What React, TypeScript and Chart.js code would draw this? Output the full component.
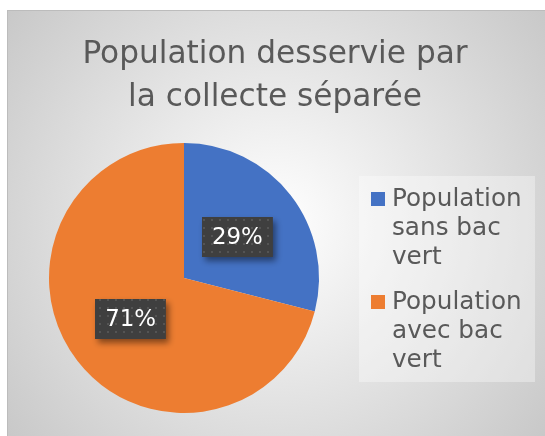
import React, { useEffect, useRef } from "react";
import { Chart, registerables } from "chart.js";
Chart.register(...registerables);

const categories = ["Population sans bac vert", "Population avec bac vert"];
const values = [29, 71];
const colors = ["#4472C4", "#ED7D31"];
const titleLines = ["Population desservie par", "la collecte séparée"];

const W = 545;
const H = 436;
const FONT = "'DejaVu Sans', 'Noto Sans', sans-serif";
const TEXT = "#595959";

function fitSize(ctx: CanvasRenderingContext2D, text: string, base: number, target: number) {
  ctx.font = `${base}px ${FONT}`;
  const w = ctx.measureText(text).width;
  return Math.round(((base * target) / w) * 10) / 10;
}

function wrapText(ctx: CanvasRenderingContext2D, text: string, maxW: number): string[] {
  const words = text.split(" ");
  const lines: string[] = [];
  let cur = "";
  for (const w of words) {
    const t = cur ? cur + " " + w : w;
    if (cur && ctx.measureText(t).width > maxW) {
      lines.push(cur);
      cur = w;
    } else cur = t;
  }
  if (cur) lines.push(cur);
  return lines;
}

let patternCache: CanvasPattern | null = null;
function getPattern(ctx: CanvasRenderingContext2D) {
  if (patternCache) return patternCache;
  const c = document.createElement("canvas");
  c.width = 8;
  c.height = 8;
  const p = c.getContext("2d")!;
  p.fillStyle = "#3f3f3f";
  p.fillRect(0, 0, 8, 8);
  p.fillStyle = "#545454";
  p.fillRect(3, 3, 2, 2);
  patternCache = ctx.createPattern(c, "repeat");
  return patternCache;
}

const decoPlugin = {
  id: "deco",
  beforeDraw(chart: any) {
    const ctx: CanvasRenderingContext2D = chart.ctx;
    ctx.save();
    ctx.fillStyle = "#ffffff";
    ctx.fillRect(0, 0, W, H);
    const x0 = 7, y0 = 10;
    const g = ctx.createRadialGradient(276, 223, 0, 276, 223, 345);
    g.addColorStop(0, "#ffffff");
    g.addColorStop(1, "#c8c8c8");
    ctx.fillStyle = g;
    ctx.fillRect(x0, y0, W - x0, H - y0);
    ctx.strokeStyle = "#bcbcbc";
    ctx.lineWidth = 1;
    ctx.strokeRect(x0 + 0.5, y0 + 0.5, W - x0, H - y0);

    // title
    const ts = Math.min(32, fitSize(ctx, titleLines[0], 30, 385));
    ctx.fillStyle = TEXT;
    ctx.font = `${ts}px ${FONT}`;
    ctx.textAlign = "center";
    ctx.textBaseline = "alphabetic";
    titleLines.forEach((l, i) => ctx.fillText(l, 275, 63 + i * 43));

    // legend box
    ctx.fillStyle = "rgba(255,255,255,0.35)";
    ctx.fillRect(359, 176, 176, 206);
    ctx.restore();
  },
  afterDraw(chart: any) {
    const ctx: CanvasRenderingContext2D = chart.ctx;
    ctx.save();
    // legend
    const ls = Math.min(25, fitSize(ctx, "Population", 22, 130));
    ctx.font = `${ls}px ${FONT}`;
    ctx.textAlign = "left";
    ctx.textBaseline = "alphabetic";
    let y = 206;
    const labels: string[] = chart.data.labels;
    const bg: string[] = chart.data.datasets[0].backgroundColor;
    labels.forEach((lab, i) => {
      ctx.fillStyle = bg[i];
      ctx.fillRect(371, y - 14, 14, 14);
      ctx.fillStyle = TEXT;
      const lines = wrapText(ctx, lab, 138);
      lines.forEach((l, j) => ctx.fillText(l, 392, y + j * 29));
      y += lines.length * 29 + 16;
    });

    // data labels
    const meta = chart.getDatasetMeta(0);
    const data: number[] = chart.data.datasets[0].data;
    const total = data.reduce((a, b) => a + b, 0);
    const ds = Math.min(27, fitSize(ctx, "29%", 26, 51));
    ctx.font = `${ds}px ${FONT}`;
    ctx.textAlign = "center";
    ctx.textBaseline = "middle";
    meta.data.forEach((arc: any, i: number) => {
      const pos = arc.tooltipPosition();
      const txt = Math.round((data[i] / total) * 100) + "%";
      const tw = ctx.measureText(txt).width;
      const bw = tw + 20;
      const bh = 40;
      const bx = Math.round(pos.x - bw / 2);
      const by = Math.round(pos.y - bh / 2);
      ctx.save();
      ctx.shadowColor = "rgba(0,0,0,0.45)";
      ctx.shadowOffsetX = 3;
      ctx.shadowOffsetY = 4;
      ctx.shadowBlur = 6;
      ctx.fillStyle = getPattern(ctx) || "#404040";
      ctx.fillRect(bx, by, bw, bh);
      ctx.restore();
      ctx.fillStyle = "#ffffff";
      ctx.fillText(txt, pos.x, pos.y + 1);
    });
    ctx.restore();
  },
};

export default function App() {
  const ref = useRef<HTMLCanvasElement>(null);
  useEffect(() => {
    if (!ref.current) return;
    const chart = new Chart(ref.current, {
      type: "pie",
      data: {
        labels: categories,
        datasets: [
          {
            data: values,
            backgroundColor: colors,
            borderWidth: 0,
          },
        ],
      },
      options: {
        responsive: false,
        animation: false,
        devicePixelRatio: 1,
        layout: { padding: { left: 49, right: W - 319, top: 143, bottom: H - 413 } },
        plugins: {
          legend: { display: false },
          title: { display: false },
          tooltip: { enabled: false },
        },
      },
      plugins: [decoPlugin],
    });
    return () => chart.destroy();
  }, []);
  return (
    <div style={{ position: "fixed", left: 0, top: 0, width: W, height: H }}>
      <canvas ref={ref} width={W} height={H} style={{ display: "block" }} />
    </div>
  );
}
